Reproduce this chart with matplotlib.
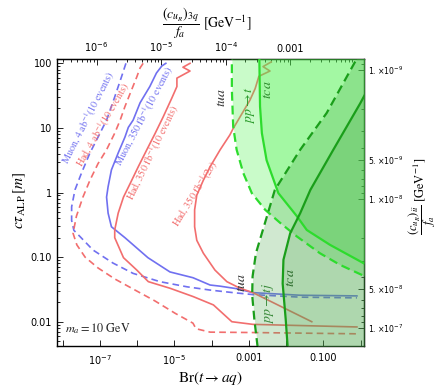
import numpy as np
import matplotlib.pyplot as plt
from matplotlib.ticker import NullFormatter, LogLocator, FixedLocator

plt.rcParams['font.family'] = 'DejaVu Sans'
plt.rcParams['mathtext.fontset'] = 'dejavusans'

# ---- curves: Br(t -> aq) vs c tau [m] ----
muon4_br = [5.0e-7, 3.8e-7, 2.5e-7, 1.51e-7, 8.9e-8, 5.4e-8, 3.2e-8, 2.14e-8, 1.74e-8, 1.74e-8,
            2.0e-8, 2.9e-8, 6.5e-8, 2.24e-7, 7.8e-7, 4.1e-6, 2.19e-5, 9.1e-5, 3.8e-4, 1.29e-3, 0.024, 0.8]
muon4_ct = [100, 61.7, 30.2, 13.2, 7.2, 4.1, 2.0, 1.10, 0.60, 0.37,
            0.26, 0.209, 0.129, 0.081, 0.056, 0.0417, 0.0347, 0.0309, 0.0282, 0.0263, 0.024, 0.0234]

muon350_br = [5.9e-6, 4.6e-6, 3.3e-6, 2.19e-6, 1.2e-6, 7.8e-7, 5.8e-7, 4.7e-7, 3.1e-7, 2.04e-7, 1.66e-7, 1.51e-7,
              1.66e-7, 2.04e-7, 4.7e-7, 1.95e-6, 7.6e-6, 3.16e-5, 9.1e-5, 1.7e-4, 4.8e-4, 1.29e-3, 0.024, 0.8]
muon350_ct = [100, 91, 70.8, 43.7, 24.5, 13.2, 10.2, 7.2, 4.1, 2.24, 1.23, 0.85,
              0.48, 0.295, 0.20, 0.098, 0.059, 0.048, 0.037, 0.0355, 0.0324, 0.0282, 0.0257, 0.0251]

had4_br = [1.45e-6, 1.2e-6, 9.8e-7, 7.1e-7, 4.7e-7, 3.5e-7, 2.5e-7, 1.51e-7, 8.9e-8, 5.4e-8, 3.5e-8, 2.34e-8, 1.9e-8,
           2.4e-8, 4.0e-8, 8.9e-8, 2.5e-7, 8.7e-7, 3.0e-6, 1.05e-5, 3.16e-5, 3.8e-5, 9.1e-5, 1.29e-3, 0.8]
had4_ct = [100, 85, 61.7, 38.9, 21.4, 13.2, 8.3, 4.6, 2.8, 1.55, 0.85, 0.43, 0.234,
           0.155, 0.100, 0.068, 0.046, 0.031, 0.021, 0.0135, 0.0095, 0.0078, 0.0069, 0.0068, 0.0065]

had350_br = [2.63e-5, 1.7e-5, 2.63e-5, 1.17e-5, 1.17e-5, 8.5e-6, 5.0e-6, 3.0e-6, 1.82e-6, 1.07e-6, 6.5e-7, 4.3e-7,
             3.1e-7, 2.5e-7, 2.5e-7, 4.3e-7, 9.8e-7, 2.0e-6, 7.6e-6, 3.2e-5, 1.12e-4, 3.5e-4, 1.29e-3, 0.8]
had350_ct = [100, 87, 76, 59, 43.7, 28.8, 14.8, 8.1, 4.6, 2.5, 1.38, 0.85,
             0.48, 0.263, 0.20, 0.098, 0.063, 0.0417, 0.033, 0.0245, 0.0182, 0.0100, 0.0091, 0.0083]

had2s_br = [3.98e-3, 2.4e-3, 3.7e-3, 1.86e-3, 1.48e-3, 1.07e-3, 5.8e-4, 3.8e-4, 3.1e-4, 1.7e-4, 9.1e-5, 6.0e-5,
            4.0e-5, 3.5e-5, 3.5e-5, 4.0e-5, 6.0e-5, 1.23e-4, 2.57e-4, 5.8e-4, 1.29e-3, 0.049]
had2s_ct = [105, 89, 76, 63, 40.7, 26.9, 14.8, 9.8, 7.8, 4.6, 2.5, 1.55,
            0.91, 0.54, 0.295, 0.182, 0.115, 0.063, 0.0417, 0.033, 0.0282, 0.0100]

# ---- green exclusion boundaries ----
tua_up_br = [3.5e-4, 3.5e-4, 3.8e-4, 4.7e-4, 7.1e-4, 1.2e-3, 2.75e-3, 6.9e-3, 0.0195, 0.081, 0.28, 1.58]
tua_up_ct = [158, 38.9, 10.5, 4.6, 2.0, 0.98, 0.54, 0.34, 0.209, 0.115, 0.076, 0.048]

tca_up_br = [1.9e-3, 2.0e-3, 2.24e-3, 3.0e-3, 6.2e-3, 0.0195, 0.036, 0.151, 1.58]
tca_up_ct = [158, 21.4, 8.3, 3.16, 0.98, 0.43, 0.263, 0.155, 0.074]

tua_lo_br = [1.9e-3, 1.41e-3, 1.23e-3, 1.26e-3, 1.55e-3, 2.24e-3, 5.0e-3, 0.024, 0.123, 0.71, 1.05]
tua_lo_ct = [0.0025, 0.0107, 0.0257, 0.050, 0.115, 0.234, 1.10, 4.6, 17, 105, 158]

tca_lo_br = [0.0117, 9.8e-3, 8.1e-3, 8.5e-3, 0.0129, 0.024, 0.045, 0.186, 0.98, 1.58]
tca_lo_ct = [0.0025, 0.0107, 0.039, 0.091, 0.234, 0.48, 1.10, 4.6, 24, 40]

# ---- tick labels ----
bottom_ticks = [1e-7, 1e-5, 1e-3, 1e-1]
bottom_labels = [r'$10^{-7}$', r'$10^{-5}$', '0.001', '0.100']
bottom_minor = [1e-8, 1e-6, 1e-4, 1e-2, 1e0]
left_ticks = [0.01, 0.1, 1, 10, 100]
left_labels = ['0.01', '0.10', '1', '10', '100']
top_ticks = [1e-6, 1e-5, 1e-4, 1e-3]
top_labels = [r'$10^{-6}$', r'$10^{-5}$', r'$10^{-4}$', '0.001']
right_ticks = [1e-9, 5e-9, 1e-8, 5e-8, 1e-7]
right_labels = [r'$1.\!\times\!10^{-9}$', r'$5.\!\times\!10^{-9}$', r'$1.\!\times\!10^{-8}$',
                r'$5.\!\times\!10^{-8}$', r'$1.\!\times\!10^{-7}$']

red = '#f26e6e'
blue = '#7070f0'
green_up = '#2ddc2d'
green_lo = '#1a9e1a'


def br_to_c3q(br):
    br = np.maximum(br, 1e-300)
    return 10 ** ((np.log10(br) + 7.09) / 1.736 - 6)


def c3q_to_br(c):
    c = np.maximum(c, 1e-300)
    return 10 ** (-7.09 + 1.736 * (np.log10(c) + 6))


def ct_to_cii(ct):
    ct = np.maximum(ct, 1e-300)
    return 1e-9 * 10 ** (-(np.log10(ct) - 1.9) / 2)


def cii_to_ct(c):
    c = np.maximum(c, 1e-300)
    return 10 ** (1.9 - 2 * (np.log10(c) + 9))


fig = plt.figure(figsize=(4.41, 3.89), dpi=100)
ax = fig.add_axes([0.1286, 0.1105, 0.6957, 0.7370])
ax.set_xscale('log')
ax.set_yscale('log')
ax.set_xlim(10 ** -8.16, 10 ** 0.08)
ax.set_ylim(10 ** -2.376, 10 ** 2.062)

# sensitivity curves (drawn under the green regions so they tint)
ax.plot(muon4_br, muon4_ct, color=blue, lw=1.2, ls=(0, (4, 2.5)), zorder=2)
ax.plot(muon350_br, muon350_ct, color=blue, lw=1.2, zorder=2)
ax.plot(had4_br, had4_ct, color=red, lw=1.2, ls=(0, (4, 2.5)), zorder=2)
ax.plot(had350_br, had350_ct, color=red, lw=1.2, zorder=2)
ax.plot(had2s_br, had2s_ct, color=red, lw=1.2, zorder=2)

# excluded regions
up_col = (0.3, 0.95, 0.3)
lo_col = (0.3, 0.66, 0.3)
ax.fill_betweenx(tua_up_ct, tua_up_br, 10, color=up_col, alpha=0.3, lw=0, zorder=3)
ax.fill_betweenx(tca_up_ct, tca_up_br, 10, color=up_col, alpha=0.3, lw=0, zorder=3)
ax.fill_betweenx(tua_lo_ct, tua_lo_br, 10, color=lo_col, alpha=0.26, lw=0, zorder=3)
ax.fill_betweenx(tca_lo_ct, tca_lo_br, 10, color=lo_col, alpha=0.26, lw=0, zorder=3)

ax.plot(tua_up_br, tua_up_ct, color=green_up, lw=1.6, ls=(0, (4, 2.2)), zorder=4)
ax.plot(tca_up_br, tca_up_ct, color=green_up, lw=1.6, zorder=4)
ax.plot(tua_lo_br, tua_lo_ct, color=green_lo, lw=1.6, ls=(0, (4, 2.2)), zorder=4)
ax.plot(tca_lo_br, tca_lo_ct, color=green_lo, lw=1.6, zorder=4)

# curve labels
lab = dict(fontsize=7.3, family='STIXGeneral', math_fontfamily='stix', ha='center', va='center', zorder=6)
ax.text(4.9e-8, 14.1, r'Muon, 4 ab$^{-1}$(10 events)', color=blue, rotation=63, **lab)
ax.text(1.23e-7, 11.1, r'Had, 4 ab$^{-1}$(10 events)', color=red, rotation=60, **lab)
ax.text(1.55e-6, 15.4, r'Muon, 350 fb$^{-1}$(10 events)', color=blue, rotation=62, **lab)
ax.text(2.6e-6, 4.05, r'Had, 350 fb$^{-1}$(10 events)', color=red, rotation=64, **lab)
ax.text(3.8e-5, 0.97, r'Had, 350 fb$^{-1}$(2$\sigma$)', color=red, rotation=58, **lab)

reg = dict(fontsize=10, math_fontfamily='stix', ha='center', va='center', rotation=90, zorder=6)
ax.text(1.8e-4, 30, r'$tua$', color='#333333', **reg)
ax.text(1.07e-3, 22.6, r'$pp\rightarrow t$', color='#2a9a2a', **reg)
ax.text(3.1e-3, 39, r'$tca$', color='#2a8a2a', **reg)
ax.text(6.3e-4, 0.041, r'$tua$', color='#333333', **reg)
ax.text(3.2e-3, 0.0195, r'$pp\rightarrow tj$', color='#3a8a3a', **reg)
ax.text(0.0129, 0.048, r'$tca$', color='#2a6a2a', **reg)

ax.text(1.15e-8, 0.0079, r'$m_a = 10\ \mathrm{GeV}$', fontsize=8.8, math_fontfamily='stix',
        ha='left', va='center', color='#222222', zorder=6)

# axes and ticks
ax.set_xticks(bottom_ticks, labels=bottom_labels)
ax.xaxis.set_minor_locator(FixedLocator(bottom_minor))
ax.xaxis.set_minor_formatter(NullFormatter())
ax.set_yticks(left_ticks, labels=left_labels)
ax.yaxis.set_minor_locator(LogLocator(base=10, subs=np.arange(2, 10)))
ax.yaxis.set_minor_formatter(NullFormatter())
ax.tick_params(which='both', direction='in', labelsize=7, width=0.6)
ax.tick_params(which='major', length=4)
ax.tick_params(which='minor', length=2.5)
ax.tick_params(axis='x', which='minor', length=4)
ax.tick_params(axis='x', pad=5)
for sp in ax.spines.values():
    sp.set_linewidth(1.0)

top = ax.secondary_xaxis('top', functions=(br_to_c3q, c3q_to_br))
top.set_xticks(top_ticks, labels=top_labels)
top.xaxis.set_minor_formatter(NullFormatter())
top.tick_params(which='both', direction='in', labelsize=7, width=0.6)
top.tick_params(which='major', length=4)
top.tick_params(which='minor', length=2)

right = ax.secondary_yaxis('right', functions=(ct_to_cii, cii_to_ct))
right.set_yticks(right_ticks, labels=right_labels)
right.yaxis.set_minor_formatter(NullFormatter())
right.tick_params(which='both', direction='in', labelsize=5.6, width=0.6, pad=3)
right.tick_params(which='major', length=4)
right.tick_params(which='minor', length=2)

fig.text(0.478, 0.028, r'$\mathrm{Br}(t\rightarrow aq)$', fontsize=11, math_fontfamily='stix',
         ha='center', va='center')
fig.text(0.045, 0.486, r'$c\tau_{\mathrm{ALP}}\,[m]$', fontsize=11, math_fontfamily='stix',
         ha='center', va='center', rotation=90)
fig.text(0.47, 0.941, r'$\dfrac{(c_{u_R})_{3q}}{f_a}\ [\mathrm{GeV}^{-1}]$', fontsize=10,
         math_fontfamily='stix', ha='center', va='center')
fig.text(0.958, 0.496, r'$\dfrac{(c_{u_R})_{ii}}{f_a}\ [\mathrm{GeV}^{-1}]$', fontsize=9,
         math_fontfamily='stix', ha='center', va='center', rotation=90)

fig.savefig('out.png', dpi=100)
